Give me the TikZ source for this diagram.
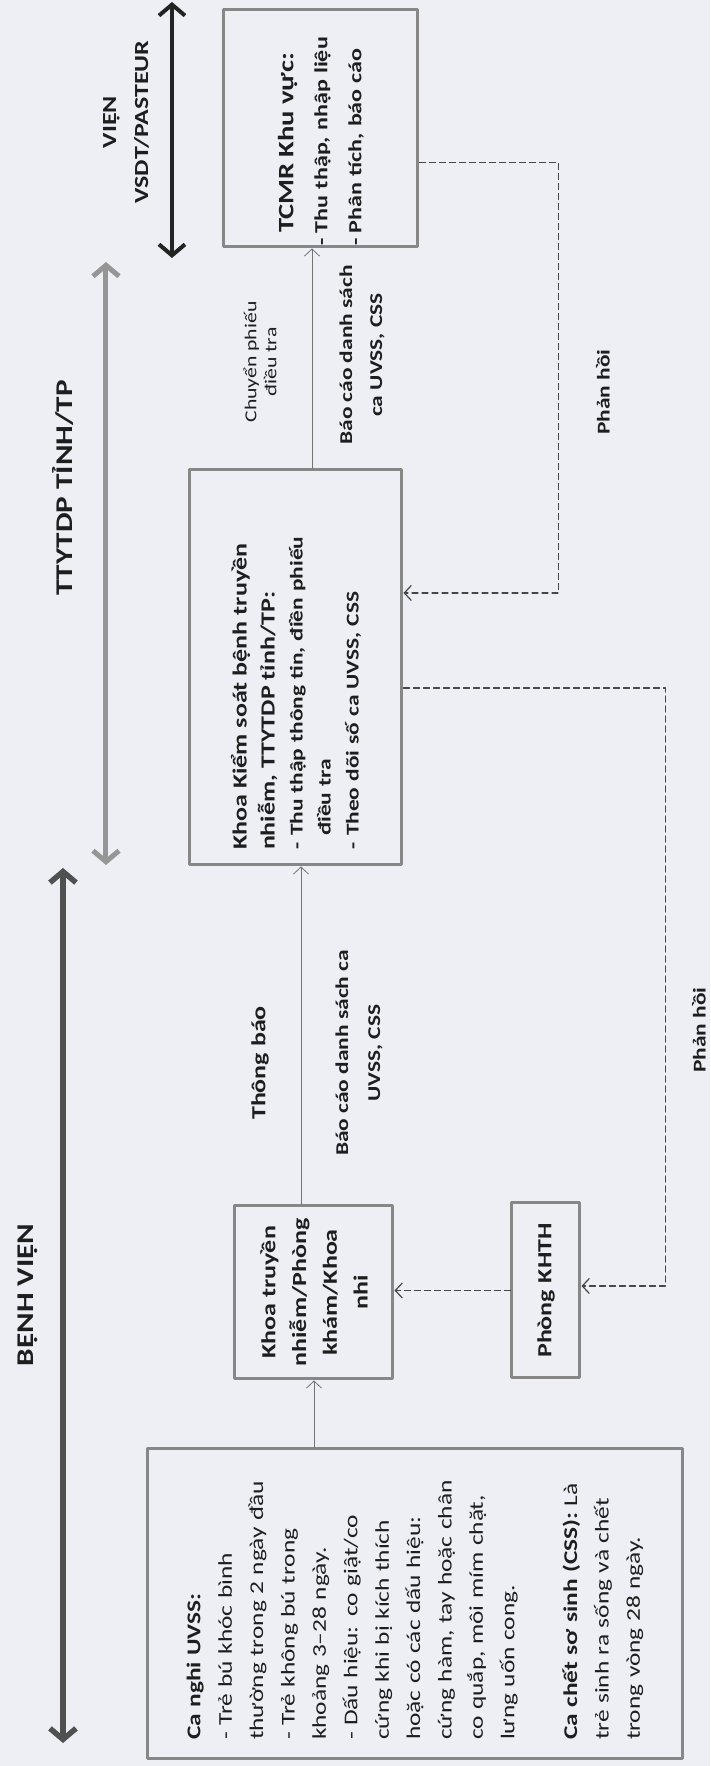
\documentclass[tikz,border=0pt]{standalone}
\usepackage{fontspec}
\setmainfont{Carlito}[FakeStretch=1.3]
\usetikzlibrary{arrows.meta}
\definecolor{paper}{RGB}{237,239,245}
\definecolor{ink}{RGB}{30,30,30}
\definecolor{boxgray}{RGB}{135,135,135}
\definecolor{thingray}{RGB}{115,115,115}
\definecolor{dashgray}{RGB}{70,70,70}
\definecolor{bvgray}{RGB}{80,80,80}
\definecolor{ttgray}{RGB}{150,150,150}
\definecolor{vigray}{RGB}{35,35,35}
\tikzset{
  unitbox/.style={rectangle,draw=boxgray,line width=3pt,text=ink,inner ysep=0pt},
  flow/.style={draw=thingray,line width=0.8pt,-{Straight Barb[length=7pt,width=15pt]}},
  feedback/.style={draw=dashgray,line width=1.2pt,dash pattern=on 6pt off 4pt,-{Straight Barb[length=7pt,width=15pt]}},
  level/.style={line width=5pt,{Straight Barb[length=11pt,width=26pt]}-{Straight Barb[length=11pt,width=26pt]}},
  lbl/.style={text=ink,inner sep=0pt,align=center},
  every picture/.style={line cap=round,line join=round}
}

\begin{document}
\begin{tikzpicture}[x=1pt,y=1pt]
\begin{scope}[rotate=90,transform shape]
  \path[use as bounding box,fill=paper] (0,0) rectangle (1766,710);

  % levels
  \coordinate (bv1) at (23,647);
  \coordinate (bv2) at (898,647);
  \coordinate (tt1) at (901,604);
  \coordinate (tt2) at (1504,604);
  \coordinate (vi1) at (1508,538);
  \coordinate (vi2) at (1764,538);
  \draw[level,draw=bvgray,line width=5.5pt] (bv1) -- (bv2);
  \draw[level,draw=ttgray] (tt1) -- (tt2);
  \draw[level,draw=vigray,line width=4pt] (vi1) -- (vi2);
  \node[lbl,font=\fontsize{24}{28}\selectfont\bfseries] (bvtitle) at (471,682) {BỆNH VIỆN};
  \node[lbl,font=\fontsize{24}{28}\selectfont\bfseries] (tttitle) at (1278,647) {TTYTDP TỈNH/TP};
  \node[lbl,font=\fontsize{20}{32}\selectfont\bfseries] (vititle) at (1644,584) {VIỆN\\VSDT/PASTEUR};

  % boxes
  \node[unitbox,text width=272pt,inner xsep=19pt,minimum height=534pt,align=left,
        font=\fontsize{19.5}{31.4}\selectfont] (canghi) at (162,295) {%
    \textbf{Ca nghi UVSS:}\\
    - Trẻ bú khóc bình\\
    thường trong 2 ngày đầu\\
    - Trẻ không bú trong\\
    khoảng 3–28 ngày.\\
    - Dấu hiệu: co giật/co\\
    cứng khi bị kích thích\\
    hoặc có các dấu hiệu:\\
    cứng hàm, tay hoặc chân\\
    co quắp, môi mím chặt,\\
    lưng uốn cong.\\[31.4pt]
    \textbf{Ca chết sơ sinh (CSS):} Là\\
    trẻ sinh ra sống và chết\\
    trong vòng 28 ngày.};
  \node[unitbox,text width=163pt,inner xsep=5pt,minimum height=158pt,align=center,
        font=\fontsize{20}{30.7}\selectfont\bfseries] (khoatn) at (473.5,396)
    {Khoa truyền\\nhiễm/Phòng\\khám/Khoa\\nhi};
  \node[unitbox,text width=165pt,inner xsep=5pt,minimum height=68pt,align=center,
        font=\fontsize{20}{24}\selectfont\bfseries] (phong) at (475.5,164) {Phòng KHTH};
  \node[unitbox,text width=365pt,inner xsep=15pt,minimum height=212pt,align=left,
        font=\fontsize{18}{28}\selectfont\bfseries] (ksbt) at (1098.5,414) {%
    \fontsize{20}{28}\selectfont Khoa Kiểm soát bệnh truyền\\
    nhiễm, TTYTDP tỉnh/TP:\\
    \fontsize{18}{28}\selectfont\makebox[14pt][l]{-}Thu thập thông tin, điền phiếu\\
    \hspace*{14pt}điều tra\\
    \makebox[14pt][l]{-}Theo dõi số ca UVSS, CSS};
  \node[unitbox,text width=209pt,inner xsep=14pt,minimum height=194pt,align=left,
        font=\fontsize{18.5}{34}\selectfont\bfseries] (tcmr) at (1637.5,389) {%
    \fontsize{22}{34}\selectfont TCMR Khu vực:\\
    \fontsize{18.5}{34}\selectfont\makebox[0pt][r]{-\hspace{5pt}}Thu thập, nhập liệu\\
    \makebox[0pt][r]{-\hspace{5pt}}Phân tích, báo cáo};

  % reporting
  \draw[flow] (khoatn.west -| canghi.east) -- (khoatn.west);
  \draw[flow] ([yshift=-5pt]ksbt.west -| khoatn.east) -- ([yshift=-5pt]ksbt.west);
  \draw[flow] ([yshift=9pt]tcmr.west -| ksbt.east) -- ([yshift=9pt]tcmr.west);
  \draw[feedback] (phong.north) -- (phong.north |- khoatn.south);
  \node[lbl,font=\fontsize{20}{24}\selectfont\bfseries] (thongbao) at (703,450) {Thông báo};
  \node[lbl,font=\fontsize{18}{32}\selectfont\bfseries] (baocao1) at (713,351) {Báo cáo danh sách ca\\UVSS, CSS};
  \node[lbl,font=\fontsize{16.7}{20}\selectfont] (chuyen) at (1404,450) {Chuyển phiếu\\điều tra};
  \node[lbl,font=\fontsize{18}{30}\selectfont\bfseries] (baocao2) at (1411,348) {Báo cáo danh sách\\ca UVSS, CSS};

  % feedback
  \draw[feedback] ([xshift=-34pt]tcmr.south) -- ++(0,-139) -| ([xshift=74.5pt]ksbt.south);
  \draw[feedback] ([xshift=-20.5pt]ksbt.south) -- ++(0,-262) -| ([xshift=4.5pt]phong.south);
  \node[lbl,font=\fontsize{18}{24}\selectfont\bfseries] (phanhoi2) at (1374,107) {Phản hồi};
  \node[lbl,font=\fontsize{18}{24}\selectfont\bfseries] (phanhoi1) at (736,11) {Phản hồi};
\end{scope}
\end{tikzpicture}
\end{document}
